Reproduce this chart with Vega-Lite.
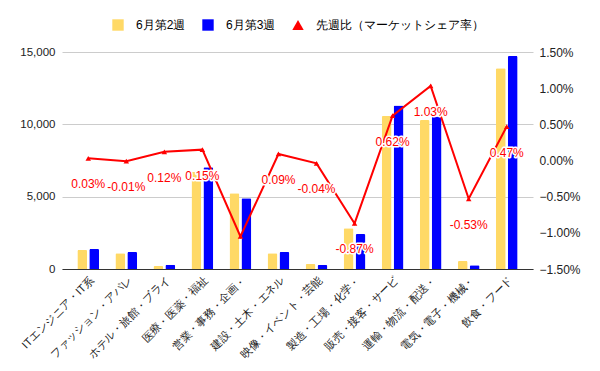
{
  "$schema": "https://vega.github.io/schema/vega-lite/v6.json",
  "width": 471,
  "height": 217,
  "autosize": {"type": "none"},
  "padding": {"left": 62, "top": 52, "right": 67, "bottom": 102},
  "config": {
    "font": "Liberation Sans",
    "view": {"stroke": null},
    "axis": {"labelFont": "Liberation Sans", "labelColor": "#222", "labelFontSize": 11.5, "ticks": false, "domain": false, "title": null},
    "legend": {"labelFont": "Liberation Sans", "layout": {"top": {"anchor": "middle"}}}
  },
  "datasets": {
    "bars": [
      {"cat": "ITエンジニア・IT系", "series": "6月第2週", "value": 1310},
      {"cat": "ITエンジニア・IT系", "series": "6月第3週", "value": 1380},
      {"cat": "ファッション・アパレ", "series": "6月第2週", "value": 1090},
      {"cat": "ファッション・アパレ", "series": "6月第3週", "value": 1175},
      {"cat": "ホテル・旅館・ブライ", "series": "6月第2週", "value": 210},
      {"cat": "ホテル・旅館・ブライ", "series": "6月第3週", "value": 300},
      {"cat": "医療・医薬・福祉", "series": "6月第2週", "value": 6720},
      {"cat": "医療・医薬・福祉", "series": "6月第3週", "value": 7030},
      {"cat": "営業・事務・企画・", "series": "6月第2週", "value": 5230},
      {"cat": "営業・事務・企画・", "series": "6月第3週", "value": 4890},
      {"cat": "建設・土木・エネル", "series": "6月第2週", "value": 1090},
      {"cat": "建設・土木・エネル", "series": "6月第3週", "value": 1175},
      {"cat": "映像・イベント・芸能", "series": "6月第2週", "value": 350},
      {"cat": "映像・イベント・芸能", "series": "6月第3週", "value": 270},
      {"cat": "製造・工場・化学・", "series": "6月第2週", "value": 2810},
      {"cat": "製造・工場・化学・", "series": "6月第3週", "value": 2420},
      {"cat": "販売・接客・サービ", "series": "6月第2週", "value": 10580},
      {"cat": "販売・接客・サービ", "series": "6月第3週", "value": 11310},
      {"cat": "運輸・物流・配送・", "series": "6月第2週", "value": 10300},
      {"cat": "運輸・物流・配送・", "series": "6月第3週", "value": 10550},
      {"cat": "電気・電子・機械・", "series": "6月第2週", "value": 550},
      {"cat": "電気・電子・機械・", "series": "6月第3週", "value": 260},
      {"cat": "飲食・フード", "series": "6月第2週", "value": 13870},
      {"cat": "飲食・フード", "series": "6月第3週", "value": 14720}
    ],
    "ratio": [
      {"cat": "ITエンジニア・IT系", "series": "先週比（マーケットシェア率）", "rate": 0.0003, "label": "0.03%"},
      {"cat": "ファッション・アパレ", "series": "先週比（マーケットシェア率）", "rate": -0.0001, "label": "-0.01%"},
      {"cat": "ホテル・旅館・ブライ", "series": "先週比（マーケットシェア率）", "rate": 0.0012, "label": "0.12%"},
      {"cat": "医療・医薬・福祉", "series": "先週比（マーケットシェア率）", "rate": 0.0015, "label": "0.15%"},
      {"cat": "営業・事務・企画・", "series": "先週比（マーケットシェア率）", "rate": -0.0105, "label": ""},
      {"cat": "建設・土木・エネル", "series": "先週比（マーケットシェア率）", "rate": 0.0009, "label": "0.09%"},
      {"cat": "映像・イベント・芸能", "series": "先週比（マーケットシェア率）", "rate": -0.0004, "label": "-0.04%"},
      {"cat": "製造・工場・化学・", "series": "先週比（マーケットシェア率）", "rate": -0.0087, "label": "-0.87%"},
      {"cat": "販売・接客・サービ", "series": "先週比（マーケットシェア率）", "rate": 0.0062, "label": "0.62%"},
      {"cat": "運輸・物流・配送・", "series": "先週比（マーケットシェア率）", "rate": 0.0103, "label": "1.03%"},
      {"cat": "電気・電子・機械・", "series": "先週比（マーケットシェア率）", "rate": -0.0053, "label": "-0.53%"},
      {"cat": "飲食・フード", "series": "先週比（マーケットシェア率）", "rate": 0.0047, "label": "0.47%"}
    ]
  },
  "layer": [
    {
      "data": {"name": "bars"},
      "mark": {"type": "bar", "cornerRadiusEnd": 1.5},
      "encoding": {
        "x": {
          "field": "cat", "type": "nominal", "sort": null,
          "scale": {"paddingInner": 0, "paddingOuter": 0.19},
          "axis": {"labelAngle": -45, "labelAlign": "right", "labelBaseline": "top", "labelPadding": 5, "domain": true, "domainColor": "#333", "labelLimit": 200, "labelFontSize": 11}
        },
        "xOffset": {"field": "series", "sort": null, "scale": {"paddingInner": 0.17, "paddingOuter": 0.68}},
        "y": {
          "field": "value", "type": "quantitative",
          "scale": {"domain": [0, 15000]},
          "axis": {"values": [0, 5000, 10000, 15000], "format": ",.0f", "grid": true, "gridColor": "#cccccc", "labelPadding": 7, "orient": "left"}
        },
        "color": {
          "field": "series", "type": "nominal",
          "scale": {"domain": ["6月第2週", "6月第3週", "先週比（マーケットシェア率）"], "range": ["#ffd966", "#0000ff", "#ff0000"]},
          "legend": {"title": null, "orient": "top", "direction": "horizontal", "labelFontSize": 12, "labelLimit": 300, "symbolSize": 130, "columnPadding": 16, "offset": 21, "labelOffset": 12, "symbolStrokeWidth": 0}
        }
      }
    },
    {
      "data": {"name": "ratio"},
      "encoding": {
        "x": {"field": "cat", "type": "nominal", "sort": null},
        "y": {
          "field": "rate", "type": "quantitative",
          "scale": {"domain": [-0.015, 0.015]},
          "axis": {"orient": "right", "values": [-0.015, -0.01, -0.005, 0, 0.005, 0.01, 0.015], "format": ".2%", "grid": false, "labelPadding": 6, "labelFontSize": 12}
        }
      },
      "layer": [
        {"mark": {"type": "line", "color": "#ff0000", "strokeWidth": 2}},
        {
          "mark": {"type": "point", "filled": true, "size": 30, "opacity": 1},
          "encoding": {
            "color": {"field": "series", "type": "nominal", "scale": {"domain": ["6月第2週", "6月第3週", "先週比（マーケットシェア率）"], "range": ["#ffd966", "#0000ff", "#ff0000"]}, "legend": {"title": null}},
            "shape": {"field": "series", "type": "nominal", "scale": {"domain": ["6月第2週", "6月第3週", "先週比（マーケットシェア率）"], "range": ["square", "square", "triangle-up"]}, "legend": {"title": null}}
          }
        },
        {"mark": {"type": "text", "dy": 26, "fontSize": 12, "color": "#ffffff", "stroke": "#ffffff", "strokeWidth": 3, "strokeJoin": "round"}, "encoding": {"text": {"field": "label"}}},
        {"mark": {"type": "text", "dy": 26, "fontSize": 12, "color": "#ff0000"}, "encoding": {"text": {"field": "label"}}}
      ]
    }
  ],
  "resolve": {"scale": {"y": "independent"}}
}
